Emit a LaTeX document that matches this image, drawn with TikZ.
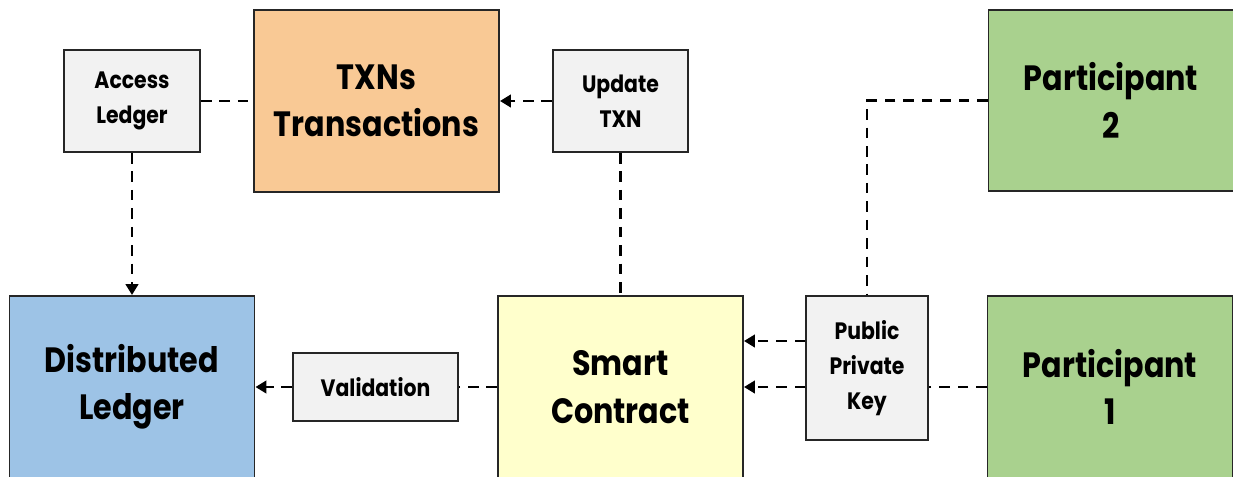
\documentclass[tikz,border=0pt]{standalone}
\usepackage{fontspec}
\setmainfont{Poppins}[FakeStretch=0.86]
\usepackage{xcolor}
\usepackage{tikz}
\usetikzlibrary{arrows.meta, positioning, calc}
\definecolor{txnorange}{HTML}{F9C995}
\definecolor{ledgerblue}{HTML}{9DC3E6}
\definecolor{contractyellow}{HTML}{FFFFCC}
\definecolor{partgreen}{HTML}{A9D18E}
\definecolor{stepgrey}{HTML}{F2F2F2}

\begin{document}
\begin{tikzpicture}[
    big/.style={
        draw=black!85, line width=1.1pt,
        rectangle, align=center,
        minimum width=4.9cm, minimum height=3.64cm,
        font=\bfseries\fontsize{20}{27}\selectfont,
    },
    small/.style={
        draw=black!85, line width=1.1pt, fill=stepgrey,
        rectangle, align=center, inner sep=2pt,
        font=\bfseries\fontsize{13.5}{20}\selectfont,
    },
    link/.style={
        dash pattern=on 6pt off 4.5pt, line width=1.6pt
    },
    arr/.style={
        link, -{Triangle[length=2.2mm, width=2.5mm]}
    },
]
\useasboundingbox (0,0) rectangle (24.66,-9.52);

% top row
\node[big, fill=txnorange] (txn) at (7.53,-2.02) {TXNs\\Transactions};
\node[small, minimum width=2.72cm, minimum height=2.04cm] (access) at (2.64,-2.02) {Access\\Ledger};
\node[small, minimum width=2.70cm, minimum height=2.04cm] (update) at (12.41,-2.02) {Update\\TXN};
\node[big, fill=partgreen, minimum height=3.62cm] (part2) at (22.22,-2.01) {Participant\\2};

% bottom row
\node[big, fill=ledgerblue] (ledger) at (2.64,-7.74) {Distributed\\Ledger};
\node[big, fill=contractyellow] (smart) at (12.41,-7.74) {Smart\\Contract};
\node[big, fill=partgreen] (part1) at (22.2,-7.74) {Participant\\1};
\node[small, minimum width=3.3cm, minimum height=1.36cm] (valid) at (7.51,-7.74) {Validation};
\node[small, minimum width=2.44cm, minimum height=2.88cm] (key) at (17.34,-7.36) {Public\\Private\\Key};

\coordinate (k1) at ($(key.west)+(0,0.54)$);

\draw[link] (access) -- (txn);
\draw[arr] (update) -- (txn);
\draw[arr] (access) -- (ledger);
\draw[link] (update) -- (smart);
\draw[link] (part2.west) -| (key.north);
\draw[arr] (k1) -- (k1 -| smart.east);
\draw[link] (part1.west) -- (part1.west -| key.east);
\draw[arr] (key.west |- smart.east) -- (smart.east);
\draw[link] (smart) -- (valid);
\draw[arr] (valid) -- (ledger);
\end{tikzpicture}
\end{document}
